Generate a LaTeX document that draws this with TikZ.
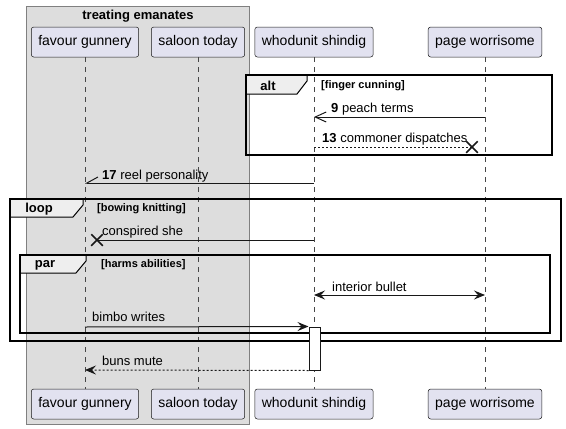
\documentclass[tikz,border=0pt]{standalone}
\usepackage{fontspec}
\setmainfont{Liberation Sans}
\usetikzlibrary{arrows.meta,shapes.misc}
\definecolor{actorfill}{HTML}{E2E2F0}
\definecolor{boxfill}{HTML}{DDDDDD}
\definecolor{tabfill}{HTML}{EEEEEE}
\definecolor{ink}{HTML}{181818}
\tikzset{
  actor/.style={draw=ink, fill=actorfill, rounded corners=2.5pt, line width=0.5pt, inner xsep=7pt, minimum height=30pt, font=\fontsize{14}{16}\selectfont},
  life/.style={draw=ink!80, line width=0.5pt, dash pattern=on 5pt off 5pt},
  msg/.style={draw=ink, line width=1pt},
  reply/.style={msg, dash pattern=on 2pt off 2pt},
  txt/.style={anchor=west, inner sep=0pt, text height=9.5pt, text depth=2.5pt, font=\fontsize{13}{15}\selectfont},
  frame/.style={draw=black, line width=1.5pt},
  tab/.style={draw=black, fill=tabfill, line width=1pt},
  tabtxt/.style={inner sep=0pt, font=\bfseries\fontsize{13}{15}\selectfont},
  cond/.style={anchor=west, inner sep=0pt, font=\bfseries\fontsize{11}{13}\selectfont},
  killed/.style={cross out, draw=ink, line width=1.5pt, minimum size=10pt, inner sep=0pt},
  fullhead/.style={-{Stealth[length=11pt,width=9pt,inset=4pt]}},
  openhead/.style={-{Straight Barb[length=11pt,width=10pt]}},
  halfhead/.style={-{Straight Barb[right,length=11pt,width=12pt]}},
}
\begin{document}
\begin{tikzpicture}[x=1pt,y=-1pt]
\useasboundingbox (0,0) rectangle (566,429);
% group box
\path[draw=gray, fill=boxfill, line width=0.5pt] (26,6) rectangle (249,424);
\node[tabtxt] (grp) at (138,16) {treating emanates};
% participants
\node[actor] (fgT) at (85,42) {favour gunnery};
\node[actor] (stT) at (198,42) {saloon today};
\node[actor] (wsT) at (314,42) {whodunit shindig};
\node[actor] (pwT) at (485,42) {page worrisome};
\node[actor] (fgB) at (85,404) {favour gunnery};
\node[actor] (stB) at (198,404) {saloon today};
\node[actor] (wsB) at (314,404) {whodunit shindig};
\node[actor] (pwB) at (485,404) {page worrisome};
\path[life] (fgT) -- (fgB);
\path[life] (stT) -- (stB);
\path[life] (wsT) -- (wsB);
\path[life] (pwT) -- (pwB);
% alt
\draw[tab] (246,75) -- (307,75) -- (307,81) -- (297,94) -- (246,94) -- cycle;
\draw[frame] (246,75) rectangle (552,155);
\node[tabtxt] (alt) at (268,86) {alt};
\node[cond] (altc) at (321,86) {[finger cunning]};
\coordinate (pw9) at (pwT |- 0,117);
\coordinate (ws9) at (wsT |- 0,117);
\path[msg,openhead] (pw9) -- (ws9);
\node[txt] (m9) at (331,109) {\textbf{9} peach terms};
\coordinate (ws13) at (wsT |- 0,147);
\node[killed] (x13) at (472,147) {};
\path[reply] (ws13) -- (x13.center);
\node[txt] (m13) at (322,139) {\textbf{13} commoner dispatches};
% 17
\coordinate (ws17) at (wsT |- 0,183);
\coordinate (fg17) at (fgT |- 0,183);
\path[msg,halfhead] (ws17) -- (fg17);
\node[txt] (m17) at (102,176) {\textbf{17} reel personality};
% loop
\draw[tab] (10,199) -- (83,199) -- (83,205) -- (73,217) -- (10,217) -- cycle;
\draw[frame] (10,199) rectangle (561,341);
\node[tabtxt] (loop) at (39,209) {loop};
\node[cond] (loopc) at (97,209) {[bowing knitting]};
\coordinate (wsc) at (wsT |- 0,240);
\node[killed] (xc) at (97,240) {};
\path[msg] (wsc) -- (xc.center);
\node[txt] (mc) at (102,232) {conspired she};
% par
\draw[tab] (20,255) -- (86,255) -- (86,261) -- (76,273) -- (20,273) -- cycle;
\draw[frame] (20,255) rectangle (550,333);
\node[tabtxt] (par) at (45,265) {par};
\node[cond] (parc) at (101,265) {[harms abilities]};
\coordinate (wsi) at (wsT |- 0,295);
\coordinate (pwi) at (pwT |- 0,295);
\path[msg,{Stealth[length=11pt,width=9pt,inset=4pt]}-{Stealth[length=11pt,width=9pt,inset=4pt]}] (wsi) -- (pwi);
\node[txt] (mi) at (332,288) {interior bullet};
\node[draw=ink, fill=white, line width=1pt, minimum width=11pt, minimum height=43pt, inner sep=0pt] (act) at (314.5,348.5) {};
\coordinate (fgb) at (fgT |- 0,327);
\path[msg,fullhead] (fgb) -- (act.north west);
\node[txt] (mb) at (92,318) {bimbo writes};
\coordinate (fgr) at (fgT |- 0,370);
\path[reply,fullhead] (act.south west) -- (fgr);
\node[txt] (mr) at (102,362) {buns mute};
\end{tikzpicture}
\end{document}
